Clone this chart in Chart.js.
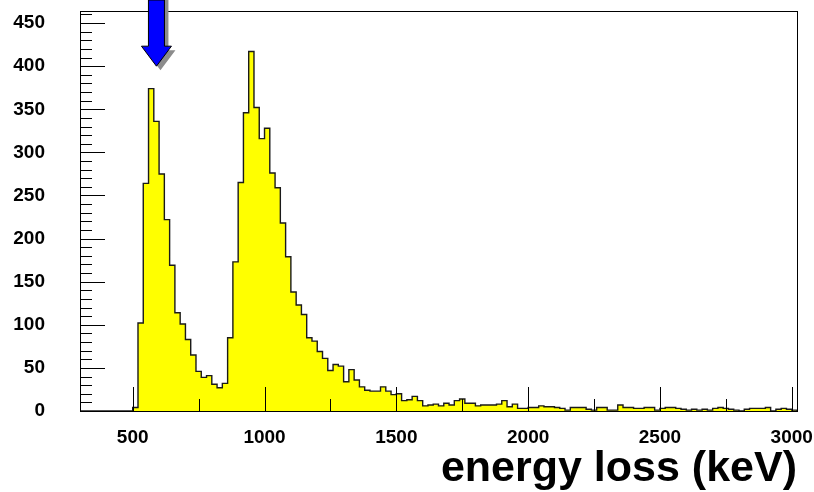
<!DOCTYPE html>
<html>
<head>
<meta charset="utf-8">
<script src="https://cdn.jsdelivr.net/npm/chart.js@4.4.1/dist/chart.umd.min.js"></script>
<style>
  body { margin: 0; background: #fff; }
</style>
</head>
<body>
<canvas id="histo" width="814" height="492"></canvas>
<script>
// energy loss spectrum, 20 keV bins from 300 keV
var binStart = 300;
var binWidth = 20;
var counts = [
    0, 0, 0, 0, 0, 0, 0, 0, 0, 0,                  // 300 - 480
    4, 102, 264, 374, 336, 275, 222, 169, 114, 101, // 500 - 680
    83, 65, 46, 39, 41, 31, 27, 32, 85, 173,        // 700 - 880
    265, 346, 417, 352, 316, 328, 276, 259, 218, 179, // 900 - 1080
    138, 123, 112, 85, 81, 69, 61, 47, 54, 52,      // 1100 - 1280
    34, 48, 36, 28, 24, 23, 23, 28, 23, 19,         // 1300 - 1480
    20, 12, 13, 17, 12, 6, 7, 8, 6, 9,              // 1500 - 1680
    7, 12, 14, 9, 9, 6, 7, 7, 7, 8,                 // 1700 - 1880
    12, 5, 8, 3, 3, 4, 4, 6, 5, 5,                  // 1900 - 2080
    4, 3, 1, 4, 4, 4, 2, 1, 4, 4,                   // 2100 - 2280
    1, 1, 7, 4, 4, 3, 3, 4, 4, 1,                   // 2300 - 2480
    3, 4, 4, 3, 2, 1, 2, 1, 2, 1,                   // 2500 - 2680
    3, 4, 3, 2, 1, 0, 2, 3, 3, 3,                   // 2700 - 2880
    4, 0, 2, 3, 2, 1                                // 2900 - 3000
];
var xTicks = [500, 1000, 1500, 2000, 2500, 3000];
var yTicks = [0, 50, 100, 150, 200, 250, 300, 350, 400, 450];
var xMin = 300, xMax = 3020;
var yMax = 464;
// arrow marking the first peak
var arrowEnergy = 590;
var arrowTip = 400;

var font = "'Liberation Sans', Arial, Helvetica, sans-serif";

// bin low edges -> stepped outline, closed at the last upper edge
var points = counts.map(function(c, i) {
    return { x: binStart + i * binWidth, y: c };
});
points.push({ x: binStart + counts.length * binWidth, y: 0 });

var decorations = {
    id: 'decorations',
    afterDatasetsDraw: function(chart) {
        var ctx = chart.ctx, a = chart.chartArea;
        var xs = chart.scales.x, ys = chart.scales.y;
        ctx.save();
        ctx.strokeStyle = '#000';
        ctx.lineWidth = 1;
        ctx.beginPath();
        // x ticks: long on labels, short half way
        for (var e = 500; e <= 3000; e += 250) {
            var px = Math.round(xs.getPixelForValue(e)) + 0.5;
            var len = (e % 500 === 0) ? 24 : 12;
            ctx.moveTo(px, a.bottom);
            ctx.lineTo(px, a.bottom - len);
        }
        // y ticks every 10, long every 50
        for (var v = 10; v <= yMax; v += 10) {
            var py = Math.round(ys.getPixelForValue(v)) + 0.5;
            var l = (v % 50 === 0) ? 25 : 12;
            ctx.moveTo(a.left, py);
            ctx.lineTo(a.left + l, py);
        }
        ctx.stroke();
        ctx.strokeRect(a.left + 0.5, a.top + 0.5, a.right - a.left, a.bottom - a.top);
        ctx.restore();
    },
    afterDraw: function(chart) {
        var ctx = chart.ctx;
        var xp = chart.scales.x.getPixelForValue(arrowEnergy);
        var tip = chart.scales.y.getPixelForValue(arrowTip);
        function arrowPath(dx, dy) {
            ctx.beginPath();
            ctx.moveTo(xp - 8 + dx, 0);
            ctx.lineTo(xp + 8 + dx, 0);
            ctx.lineTo(xp + 8 + dx, tip - 20 + dy);
            ctx.lineTo(xp + 15 + dx, tip - 20 + dy);
            ctx.lineTo(xp + dx, tip + dy);
            ctx.lineTo(xp - 15 + dx, tip - 20 + dy);
            ctx.lineTo(xp - 8 + dx, tip - 20 + dy);
            ctx.closePath();
        }
        ctx.save();
        arrowPath(4, 4);
        ctx.fillStyle = '#8c8c8c';
        ctx.fill();
        arrowPath(0, 0);
        ctx.fillStyle = '#0000ff';
        ctx.fill();
        ctx.strokeStyle = '#000';
        ctx.lineWidth = 1;
        ctx.stroke();
        ctx.restore();
    }
};

function plainLabel(v) {
    return String(v);
}

new Chart(document.getElementById('histo'), {
    type: 'line',
    data: {
        datasets: [{
            data: points,
            stepped: true,
            fill: 'origin',
            backgroundColor: '#ffff00',
            borderColor: '#1a1a1a',
            borderWidth: 1.4,
            pointRadius: 0,
            tension: 0
        }]
    },
    options: {
        responsive: false,
        animation: false,
        events: [],
        layout: { padding: { top: 11, right: 17, left: 0, bottom: 0 } },
        plugins: {
            legend: { display: false },
            tooltip: { enabled: false }
        },
        scales: {
            x: {
                type: 'linear',
                min: xMin,
                max: xMax,
                grid: { display: false, drawTicks: false, tickLength: 0 },
                border: { display: false },
                afterBuildTicks: function(s) {
                    s.ticks = xTicks.map(function(v) { return { value: v }; });
                },
                afterFit: function(s) {
                    s.height = 81;
                    s.paddingLeft = 0;
                    s.paddingRight = 0;
                },
                ticks: {
                    padding: 15,
                    color: '#000',
                    maxRotation: 0,
                    autoSkip: false,
                    callback: plainLabel,
                    font: { family: font, weight: 'bold', size: 19 }
                },
                title: {
                    display: true,
                    text: 'energy loss (keV)',
                    align: 'end',
                    color: '#000',
                    padding: { top: 0, bottom: 0 },
                    font: { family: font, weight: 'bold', size: 43, lineHeight: 1.05 }
                }
            },
            y: {
                min: 0,
                max: yMax,
                grid: { display: false, drawTicks: false, tickLength: 0 },
                border: { display: false },
                afterBuildTicks: function(s) {
                    s.ticks = yTicks.map(function(v) { return { value: v }; });
                },
                afterFit: function(s) {
                    s.width = 80;
                    s.paddingTop = 0;
                    s.paddingBottom = 0;
                },
                ticks: {
                    padding: 35,
                    color: '#000',
                    autoSkip: false,
                    callback: plainLabel,
                    font: { family: font, weight: 'bold', size: 19 }
                }
            }
        }
    },
    plugins: [decorations]
});
</script>
</body>
</html>
